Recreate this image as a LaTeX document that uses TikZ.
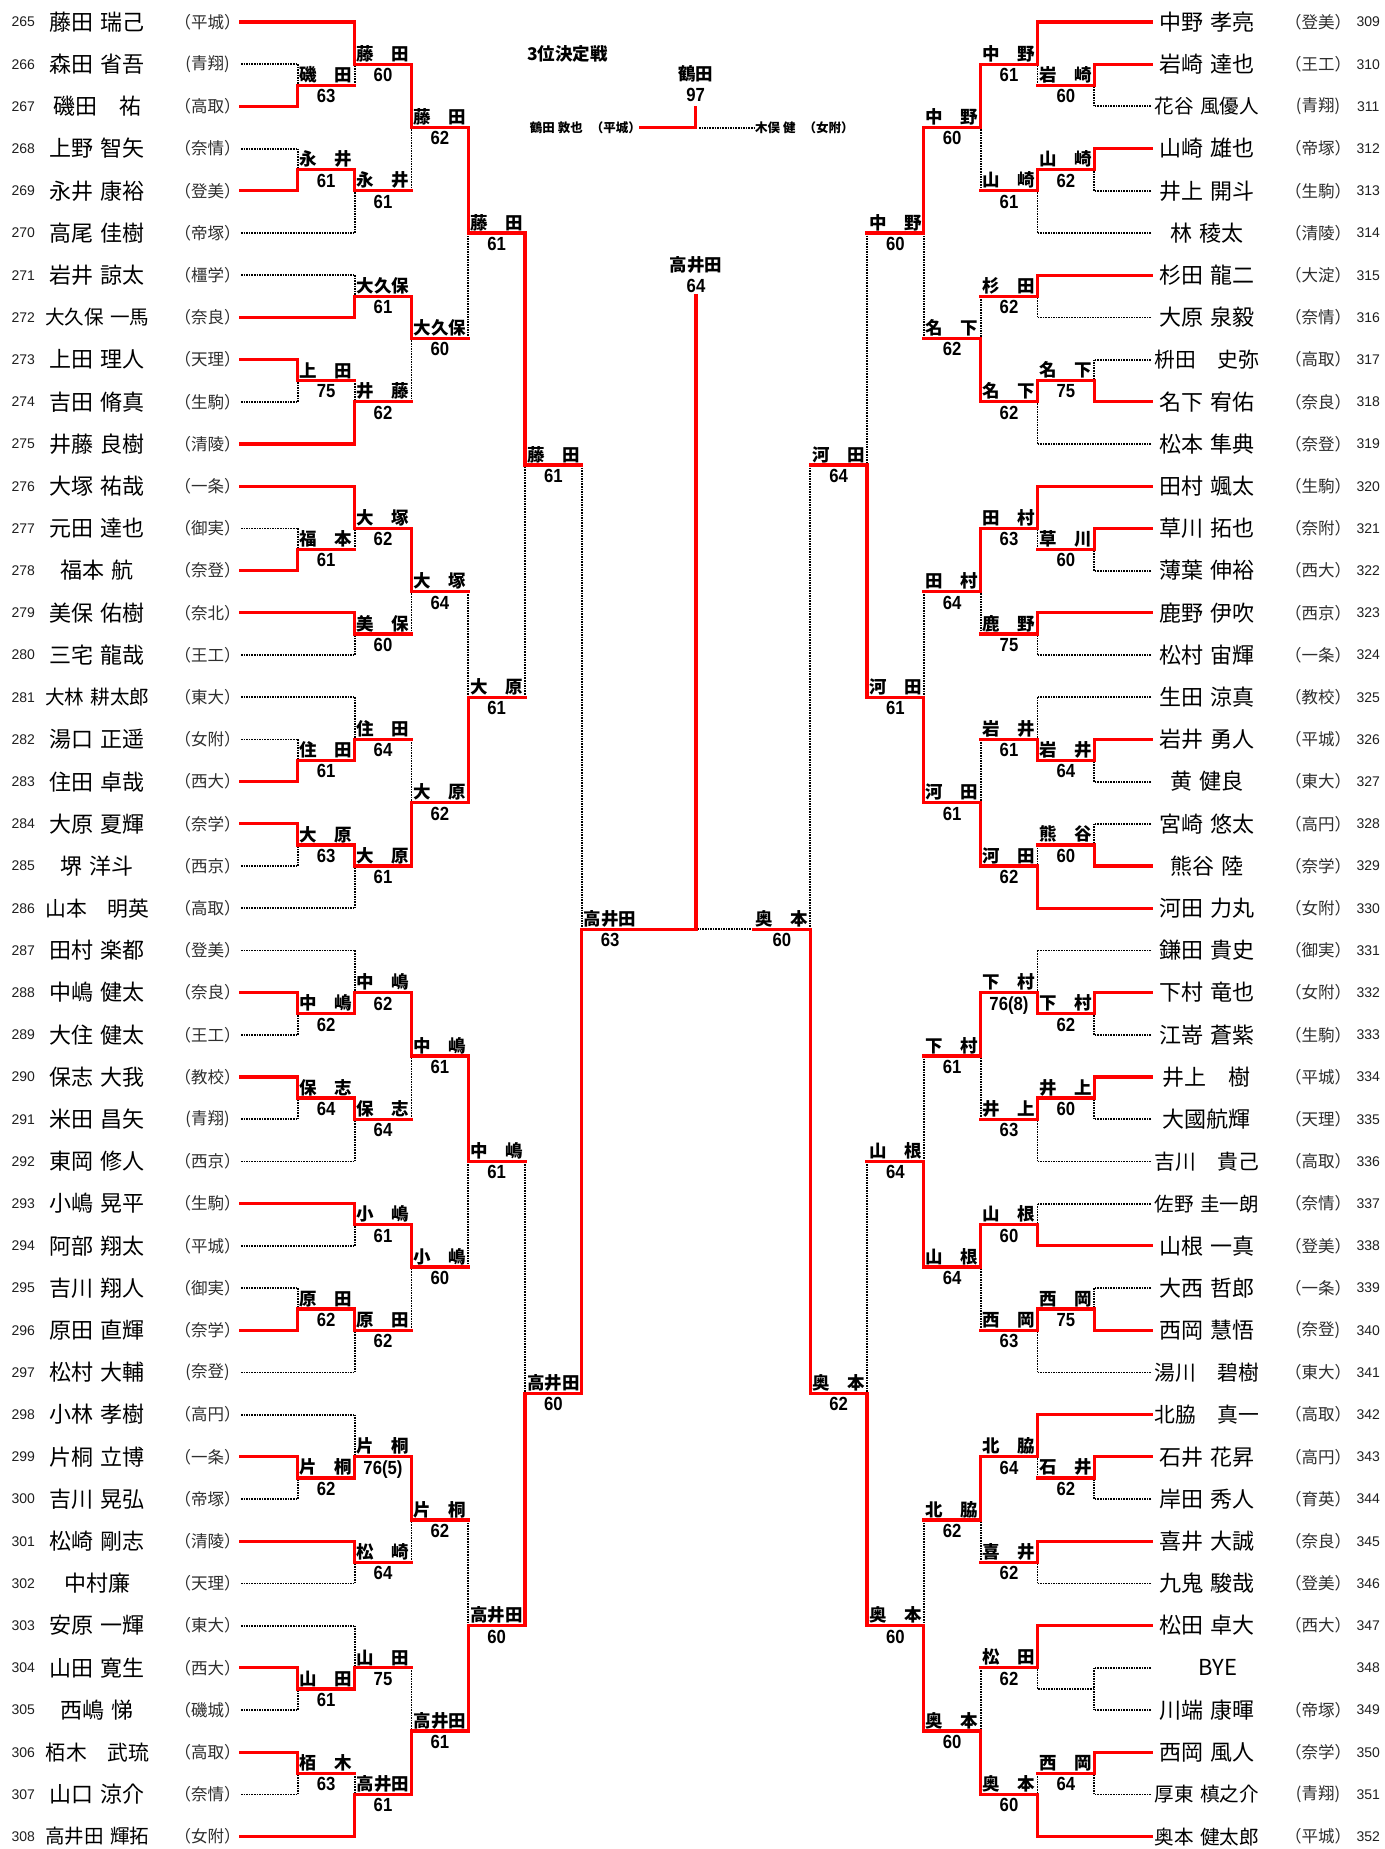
\documentclass[tikz,border=0pt]{standalone}
\usepackage{fontspec}
\usepackage{graphicx}
\newfontfamily\jp{Noto Sans CJK JP}[WordSpace=1.4]
\newfontfamily\arial{Liberation Sans}
\newfontfamily\arialn{Liberation Sans}[FakeStretch=0.88]
\pgfdeclarelayer{back}\pgfdeclarelayer{bg}\pgfsetlayers{back,bg,main}
\newsavebox\nbox
\newcommand\fitnm[1]{\sbox\nbox{#1}\ifdim\wd\nbox>104pt\resizebox{104pt}{!}{\usebox\nbox}\else\usebox\nbox\fi}
\tikzset{
  win/.style={draw=red,line width=3.3pt,line cap=rect,line join=miter},
  lose/.style={draw=black,line width=1.8pt,dash pattern=on 1.6pt off 1.0pt},
  namef/.style={font=\jp\fontsize{22}{22}\selectfont,inner sep=0pt},
  schf/.style={font=\jp\fontsize{16.5}{16.5}\selectfont,text=black!82,inner sep=0pt},
  numf/.style={font=\arial\fontsize{14}{14}\selectfont,text=black!88,inner sep=0pt},
  labf/.style={font=\jp\bfseries\fontsize{17.5}{17.5}\selectfont,inner sep=0pt},
  scf/.style={font=\arialn\bfseries\fontsize{19}{19}\selectfont,inner sep=0pt},
  smallb/.style={font=\jp\bfseries\fontsize{12.5}{12.5}\selectfont,inner sep=0pt}
}
\newcommand\pL[6]{%
  \pgfmathsetmacro\yy{22+42.2*(#1)}%
  \pgfmathsetmacro\xx{241+56.8*(#5)}%
  \node[numf] (nL#1) at (23.3,\yy) {#2};
  \node[namef] (pL#1) at (97.3,\yy) {\fitnm{#3}};
  \node[schf] (sL#1) at (207.5,\yy) {#4};
  \ifnum#6=1 \draw[win] (241,\yy) -- (\xx,\yy);\else
  \begin{pgfonlayer}{bg}\draw[lose] (241,\yy) -- (\xx,\yy);\end{pgfonlayer}\fi
}
\newcommand\pR[6]{%
  \pgfmathsetmacro\yy{22+42.2*(#1)}%
  \pgfmathsetmacro\xx{1151-56.8*(#5)}%
  \node[numf] (nR#1) at (1368.3,\yy) {#2};
  \node[namef] (pR#1) at (1206.8,\yy) {\fitnm{#3}};
  \node[schf] (sR#1) at (1318,\yy) {#4};
  \ifnum#6=1 \draw[win] (1151,\yy) -- (\xx,\yy);\else
  \begin{pgfonlayer}{bg}\draw[lose] (1151,\yy) -- (\xx,\yy);\end{pgfonlayer}\fi
}
\newcommand\mt[8]{%
  \pgfmathsetmacro\X{696+(#1)*(455-56.8*(#2))}%
  \pgfmathsetmacro\Xn{696+(#1)*(455-56.8*(#2+1))}%
  \pgfmathsetmacro\Xl{(\X+\Xn)/2}%
  \pgfmathsetmacro\Ya{22+42.2*(#3)}%
  \pgfmathsetmacro\Yb{22+42.2*(#4)}%
  \pgfmathsetmacro\Yo{22+42.2*(#5)}%
  \ifnum#6=0
    \begin{pgfonlayer}{bg}\draw[lose] (\X,\Ya) -- (\X,\Yb) (\X,\Yo) -- (\Xn,\Yo);\end{pgfonlayer}%
  \else
    \ifnum#6=1 \let\Yw\Ya\let\Yl\Yb\else\let\Yw\Yb\let\Yl\Ya\fi
    \begin{pgfonlayer}{bg}\draw[lose] (\X,\Yl) -- (\X,\Yo);\end{pgfonlayer}%
    \draw[win] (\X,\Yw) -- (\X,\Yo) -- (\Xn,\Yo);
    \node[labf,anchor=south] at (\Xl,\Yo-2) {#7};
    \node[scf,anchor=north] at (\Xl,\Yo+4) {#8};
  \fi
}
\begin{document}
\begin{tikzpicture}[x=1pt,y=-1pt]
\useasboundingbox (0,0) rectangle (1384,1849);
\begin{pgfonlayer}{back}\fill[white] (0,0) rectangle (1384,1849);\end{pgfonlayer}
% ---------- left players
\pL{0}{265}{藤田 瑞己}{（平城）}{2}{1}
\pL{1}{266}{森田 省吾}{(青翔)}{1}{0}
\pL{2}{267}{磯田　祐}{（高取）}{1}{1}
\pL{3}{268}{上野 智矢}{（奈情）}{1}{0}
\pL{4}{269}{永井 康裕}{（登美）}{1}{1}
\pL{5}{270}{高尾 佳樹}{（帝塚）}{2}{0}
\pL{6}{271}{岩井 諒太}{（橿学）}{2}{0}
\pL{7}{272}{大久保 一馬}{（奈良）}{2}{1}
\pL{8}{273}{上田 理人}{（天理）}{1}{1}
\pL{9}{274}{吉田 脩真}{（生駒）}{1}{0}
\pL{10}{275}{井藤 良樹}{（清陵）}{2}{1}
\pL{11}{276}{大塚 祐哉}{（一条）}{2}{1}
\pL{12}{277}{元田 達也}{（御実）}{1}{0}
\pL{13}{278}{福本 航}{（奈登）}{1}{1}
\pL{14}{279}{美保 佑樹}{（奈北）}{2}{1}
\pL{15}{280}{三宅 龍哉}{（王工）}{2}{0}
\pL{16}{281}{大林 耕太郎}{（東大）}{2}{0}
\pL{17}{282}{湯口 正遥}{（女附）}{1}{0}
\pL{18}{283}{住田 卓哉}{（西大）}{1}{1}
\pL{19}{284}{大原 夏輝}{（奈学）}{1}{1}
\pL{20}{285}{堺 洋斗}{（西京）}{1}{0}
\pL{21}{286}{山本　明英}{（高取）}{2}{0}
\pL{22}{287}{田村 楽都}{（登美）}{2}{0}
\pL{23}{288}{中嶋 健太}{（奈良）}{1}{1}
\pL{24}{289}{大住 健太}{（王工）}{1}{0}
\pL{25}{290}{保志 大我}{（教校）}{1}{1}
\pL{26}{291}{米田 昌矢}{(青翔)}{1}{0}
\pL{27}{292}{東岡 修人}{（西京）}{2}{0}
\pL{28}{293}{小嶋 晃平}{（生駒）}{2}{1}
\pL{29}{294}{阿部 翔太}{（平城）}{2}{0}
\pL{30}{295}{吉川 翔人}{（御実）}{1}{0}
\pL{31}{296}{原田 直輝}{（奈学）}{1}{1}
\pL{32}{297}{松村 大輔}{(奈登)}{2}{0}
\pL{33}{298}{小林 孝樹}{（高円）}{2}{0}
\pL{34}{299}{片桐 立博}{（一条）}{1}{1}
\pL{35}{300}{吉川 晃弘}{（帝塚）}{1}{0}
\pL{36}{301}{松崎 剛志}{（清陵）}{2}{1}
\pL{37}{302}{中村廉}{（天理）}{2}{0}
\pL{38}{303}{安原 一輝}{（東大）}{2}{0}
\pL{39}{304}{山田 寛生}{（西大）}{1}{1}
\pL{40}{305}{西嶋 悌}{（磯城）}{1}{0}
\pL{41}{306}{栢木　武琉}{（高取）}{1}{1}
\pL{42}{307}{山口 涼介}{（奈情）}{1}{0}
\pL{43}{308}{高井田 輝拓}{（女附）}{2}{1}
% ---------- right players
\pR{0}{309}{中野 孝亮}{（登美）}{2}{1}
\pR{1}{310}{岩崎 達也}{（王工）}{1}{1}
\pR{2}{311}{花谷 風優人}{(青翔)}{1}{0}
\pR{3}{312}{山崎 雄也}{（帝塚）}{1}{1}
\pR{4}{313}{井上 開斗}{（生駒）}{1}{0}
\pR{5}{314}{林 稜太}{（清陵）}{2}{0}
\pR{6}{315}{杉田 龍二}{（大淀）}{2}{1}
\pR{7}{316}{大原 泉毅}{（奈情）}{2}{0}
\pR{8}{317}{枡田　史弥}{（高取）}{1}{0}
\pR{9}{318}{名下 宥佑}{（奈良）}{1}{1}
\pR{10}{319}{松本 隼典}{（奈登）}{2}{0}
\pR{11}{320}{田村 颯太}{（生駒）}{2}{1}
\pR{12}{321}{草川 拓也}{（奈附）}{1}{1}
\pR{13}{322}{薄葉 伸裕}{（西大）}{1}{0}
\pR{14}{323}{鹿野 伊吹}{（西京）}{2}{1}
\pR{15}{324}{松村 宙輝}{（一条）}{2}{0}
\pR{16}{325}{生田 涼真}{（教校）}{2}{0}
\pR{17}{326}{岩井 勇人}{（平城）}{1}{1}
\pR{18}{327}{黄 健良}{（東大）}{1}{0}
\pR{19}{328}{宮崎 悠太}{（高円）}{1}{0}
\pR{20}{329}{熊谷 陸}{（奈学）}{1}{1}
\pR{21}{330}{河田 力丸}{（女附）}{2}{1}
\pR{22}{331}{鎌田 貴史}{（御実）}{2}{0}
\pR{23}{332}{下村 竜也}{（女附）}{1}{1}
\pR{24}{333}{江嵜 蒼紫}{（生駒）}{1}{0}
\pR{25}{334}{井上　樹}{（平城）}{1}{1}
\pR{26}{335}{大國航輝}{（天理）}{1}{0}
\pR{27}{336}{吉川　貴己}{（高取）}{2}{0}
\pR{28}{337}{佐野 圭一朗}{（奈情）}{2}{0}
\pR{29}{338}{山根 一真}{（登美）}{2}{1}
\pR{30}{339}{大西 哲郎}{（一条）}{1}{0}
\pR{31}{340}{西岡 慧悟}{(奈登)}{1}{1}
\pR{32}{341}{湯川　碧樹}{（東大）}{2}{0}
\pR{33}{342}{北脇　真一}{（高取）}{2}{1}
\pR{34}{343}{石井 花昇}{（高円）}{1}{1}
\pR{35}{344}{岸田 秀人}{（育英）}{1}{0}
\pR{36}{345}{喜井 大誠}{（奈良）}{2}{1}
\pR{37}{346}{九鬼 駿哉}{（登美）}{2}{0}
\pR{38}{347}{松田 卓大}{（西大）}{2}{1}
\pR{39}{348}{\hspace{22pt}BYE}{}{1}{0}
\pR{40}{349}{川端 康暉}{（帝塚）}{1}{0}
\pR{41}{350}{西岡 風人}{（奈学）}{1}{1}
\pR{42}{351}{厚東 槙之介}{(青翔)}{1}{0}
\pR{43}{352}{奥本 健太郎}{（平城）}{2}{1}
% ---------- left matches
\mt{-1}{1}{1}{2}{1.5}{2}{磯　田}{63}
\mt{-1}{2}{0}{1.5}{1}{1}{藤　田}{60}
\mt{-1}{1}{3}{4}{3.5}{2}{永　井}{61}
\mt{-1}{2}{3.5}{5}{4}{1}{永　井}{61}
\mt{-1}{3}{1}{4}{2.5}{1}{藤　田}{62}
\mt{-1}{2}{6}{7}{6.5}{2}{大久保}{61}
\mt{-1}{1}{8}{9}{8.5}{1}{上　田}{75}
\mt{-1}{2}{8.5}{10}{9}{2}{井　藤}{62}
\mt{-1}{3}{6.5}{9}{7.5}{1}{大久保}{60}
\mt{-1}{4}{2.5}{7.5}{5}{1}{藤　田}{61}
\mt{-1}{1}{12}{13}{12.5}{2}{福　本}{61}
\mt{-1}{2}{11}{12.5}{12}{1}{大　塚}{62}
\mt{-1}{2}{14}{15}{14.5}{1}{美　保}{60}
\mt{-1}{3}{12}{14.5}{13.5}{1}{大　塚}{64}
\mt{-1}{1}{17}{18}{17.5}{2}{住　田}{61}
\mt{-1}{2}{16}{17.5}{17}{2}{住　田}{64}
\mt{-1}{1}{19}{20}{19.5}{1}{大　原}{63}
\mt{-1}{2}{19.5}{21}{20}{1}{大　原}{61}
\mt{-1}{3}{17}{20}{18.5}{2}{大　原}{62}
\mt{-1}{4}{13.5}{18.5}{16}{2}{大　原}{61}
\mt{-1}{1}{23}{24}{23.5}{1}{中　嶋}{62}
\mt{-1}{2}{22}{23.5}{23}{2}{中　嶋}{62}
\mt{-1}{1}{25}{26}{25.5}{1}{保　志}{64}
\mt{-1}{2}{25.5}{27}{26}{1}{保　志}{64}
\mt{-1}{3}{23}{26}{24.5}{1}{中　嶋}{61}
\mt{-1}{2}{28}{29}{28.5}{1}{小　嶋}{61}
\mt{-1}{1}{30}{31}{30.5}{2}{原　田}{62}
\mt{-1}{2}{30.5}{32}{31}{1}{原　田}{62}
\mt{-1}{3}{28.5}{31}{29.5}{1}{小　嶋}{60}
\mt{-1}{4}{24.5}{29.5}{27}{1}{中　嶋}{61}
\mt{-1}{1}{34}{35}{34.5}{1}{片　桐}{62}
\mt{-1}{2}{33}{34.5}{34}{2}{片　桐}{76(5)}
\mt{-1}{2}{36}{37}{36.5}{1}{松　崎}{64}
\mt{-1}{3}{34}{36.5}{35.5}{1}{片　桐}{62}
\mt{-1}{1}{39}{40}{39.5}{1}{山　田}{61}
\mt{-1}{2}{38}{39.5}{39}{2}{山　田}{75}
\mt{-1}{1}{41}{42}{41.5}{1}{栢　木}{63}
\mt{-1}{2}{41.5}{43}{42}{2}{高井田}{61}
\mt{-1}{3}{39}{42}{40.5}{2}{高井田}{61}
\mt{-1}{4}{35.5}{40.5}{38}{2}{高井田}{60}
\mt{-1}{5}{5}{16}{10.5}{1}{藤　田}{61}
\mt{-1}{5}{27}{38}{32.5}{2}{高井田}{60}
\mt{-1}{6}{10.5}{32.5}{21.5}{2}{高井田}{63}
% ---------- right matches
\mt{1}{1}{1}{2}{1.5}{1}{岩　崎}{60}
\mt{1}{2}{0}{1.5}{1}{1}{中　野}{61}
\mt{1}{1}{3}{4}{3.5}{1}{山　崎}{62}
\mt{1}{2}{3.5}{5}{4}{1}{山　崎}{61}
\mt{1}{3}{1}{4}{2.5}{1}{中　野}{60}
\mt{1}{2}{6}{7}{6.5}{1}{杉　田}{62}
\mt{1}{1}{8}{9}{8.5}{2}{名　下}{75}
\mt{1}{2}{8.5}{10}{9}{1}{名　下}{62}
\mt{1}{3}{6.5}{9}{7.5}{2}{名　下}{62}
\mt{1}{4}{2.5}{7.5}{5}{1}{中　野}{60}
\mt{1}{1}{12}{13}{12.5}{1}{草　川}{60}
\mt{1}{2}{11}{12.5}{12}{1}{田　村}{63}
\mt{1}{2}{14}{15}{14.5}{1}{鹿　野}{75}
\mt{1}{3}{12}{14.5}{13.5}{1}{田　村}{64}
\mt{1}{1}{17}{18}{17.5}{1}{岩　井}{64}
\mt{1}{2}{16}{17.5}{17}{2}{岩　井}{61}
\mt{1}{1}{19}{20}{19.5}{2}{熊　谷}{60}
\mt{1}{2}{19.5}{21}{20}{2}{河　田}{62}
\mt{1}{3}{17}{20}{18.5}{2}{河　田}{61}
\mt{1}{4}{13.5}{18.5}{16}{2}{河　田}{61}
\mt{1}{1}{23}{24}{23.5}{1}{下　村}{62}
\mt{1}{2}{22}{23.5}{23}{2}{下　村}{76(8)}
\mt{1}{1}{25}{26}{25.5}{1}{井　上}{60}
\mt{1}{2}{25.5}{27}{26}{1}{井　上}{63}
\mt{1}{3}{23}{26}{24.5}{1}{下　村}{61}
\mt{1}{2}{28}{29}{28.5}{2}{山　根}{60}
\mt{1}{1}{30}{31}{30.5}{2}{西　岡}{75}
\mt{1}{2}{30.5}{32}{31}{1}{西　岡}{63}
\mt{1}{3}{28.5}{31}{29.5}{1}{山　根}{64}
\mt{1}{4}{24.5}{29.5}{27}{2}{山　根}{64}
\mt{1}{1}{34}{35}{34.5}{1}{石　井}{62}
\mt{1}{2}{33}{34.5}{34}{1}{北　脇}{64}
\mt{1}{2}{36}{37}{36.5}{1}{喜　井}{62}
\mt{1}{3}{34}{36.5}{35.5}{1}{北　脇}{62}
\mt{1}{1}{39}{40}{39.5}{0}{}{}
\mt{1}{2}{38}{39.5}{39}{1}{松　田}{62}
\mt{1}{1}{41}{42}{41.5}{1}{西　岡}{64}
\mt{1}{2}{41.5}{43}{42}{2}{奥　本}{60}
\mt{1}{3}{39}{42}{40.5}{2}{奥　本}{60}
\mt{1}{4}{35.5}{40.5}{38}{2}{奥　本}{60}
\mt{1}{5}{5}{16}{10.5}{2}{河　田}{64}
\mt{1}{5}{27}{38}{32.5}{2}{奥　本}{62}
\mt{1}{6}{10.5}{32.5}{21.5}{2}{奥　本}{60}
% ---------- final
\pgfmathsetmacro\Yf{22+42.2*21.5}
\coordinate (fin) at (696,\Yf);
\coordinate (fintop) at (696,296);
\begin{pgfonlayer}{bg}\draw[lose] (753.4,\Yf) -- (fin);\end{pgfonlayer}
\draw[win] (638.6,\Yf) -- (fin) -- (fintop);
\node[labf] (champ) at (696,265) {高井田};
\node[scf] (champs) at (696,286) {64};
% ---------- 3rd place
\node[labf,anchor=west] (title) at (527,54) {3位決定戦};
\node[labf] (third) at (695.7,74.3) {鶴田};
\node[scf] (thirds) at (695.7,95) {97};
\node[smallb,anchor=east] (t1) at (641,127.7) {鶴田\hspace{3pt}敦也\hspace{8pt}（平城）};
\node[smallb,anchor=west] (t2) at (755,127.7) {木俣\hspace{3pt}健\hspace{8pt}（女附）};
\coordinate (tj) at (695.7,127.7);
\coordinate (tt) at (695.7,107.7);
\begin{pgfonlayer}{bg}\draw[lose] (699,127.7) -- (t2.west);\end{pgfonlayer}
\draw[win] (t1.east) -- (tj) -- (tt);
\end{tikzpicture}
\end{document}
